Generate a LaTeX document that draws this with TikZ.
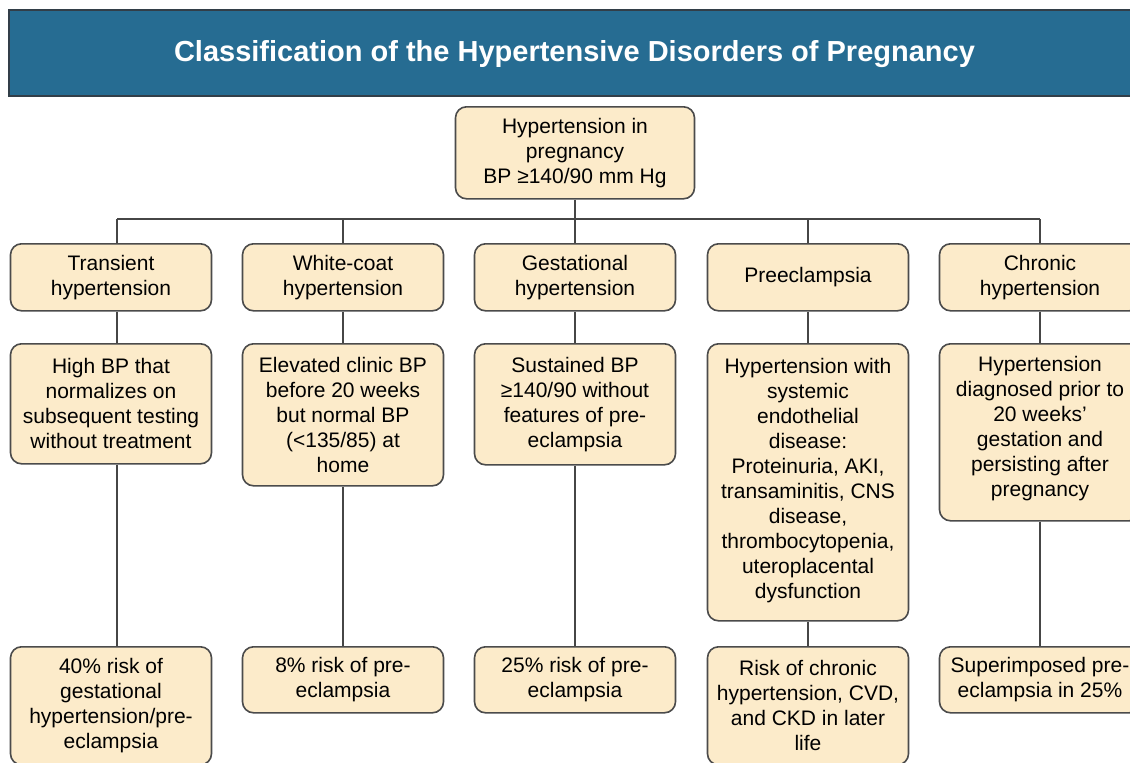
\documentclass[tikz,border=0pt]{standalone}
\usepackage{fontspec}
\setmainfont{Liberation Sans}
\definecolor{titleblue}{RGB}{38,108,146}
\definecolor{titleedge}{RGB}{50,62,72}
\definecolor{boxfill}{RGB}{252,235,202}
\definecolor{boxline}{RGB}{75,75,75}
\definecolor{linkgray}{RGB}{70,70,70}
\begin{document}
\begin{tikzpicture}[x=1pt,y=-1pt,
  box/.style={draw=boxline, fill=boxfill, line width=1.6pt, rounded corners=11pt,
    minimum width=201pt, inner sep=0pt, align=center, anchor=north,
    font=\fontsize{21}{25}\selectfont},
  link/.style={draw=linkgray, line width=1.8pt}]
\useasboundingbox (0,0) rectangle (1130,763);
\fill[white] (0,0) rectangle (1130,763);

% title banner
\draw[fill=titleblue, draw=titleedge, line width=1.4pt] (9,10) rectangle (1145,96);
\node[text=white, font=\bfseries\fontsize{29}{34}\selectfont] (title) at (574.5,54)
  {Classification of the Hypertensive Disorders of Pregnancy};

% root
\node[box, minimum width=239pt, minimum height=92pt] (root) at (575,106)
  {Hypertension in\\pregnancy\\BP ≥140/90 mm Hg};

% categories
\node[box, minimum height=67pt] (t1) at (111,243) {Transient\\hypertension};
\node[box, minimum height=67pt] (t2) at (343,243) {White-coat\\hypertension};
\node[box, minimum height=67pt] (t3) at (575,243) {Gestational\\hypertension};
\node[box, minimum height=67pt] (t4) at (808,243) {Preeclampsia};
\node[box, minimum height=67pt] (t5) at (1040,243) {Chronic\\hypertension};

% definitions
\node[box, minimum height=120pt] (d1) at (111,343)
  {High BP that\\normalizes on\\subsequent testing\\without treatment};
\node[box, minimum height=142pt] (d2) at (343,343)
  {Elevated clinic BP\\before 20 weeks\\but normal BP\\(<135/85) at\\home};
\node[box, minimum height=121pt] (d3) at (575,343)
  {Sustained BP\\≥140/90 without\\features of pre-\\eclampsia};
\node[box, minimum height=277pt, text depth=8pt] (d4) at (808,343)
  {Hypertension with\\systemic\\endothelial\\disease:\\Proteinuria, AKI,\\transaminitis, CNS\\disease,\\thrombocytopenia,\\uteroplacental\\dysfunction};
\node[box, minimum height=177pt, text depth=12pt] (d5) at (1040,343)
  {Hypertension\\diagnosed prior to\\20 weeks’\\gestation and\\persisting after\\pregnancy};

% outcomes
\node[box, minimum height=118pt] (o1) at (111,646)
  {40\% risk of\\gestational\\hypertension/pre-\\eclampsia};
\node[box, minimum height=66pt] (o2) at (343,646) {8\% risk of pre-\\eclampsia};
\node[box, minimum height=66pt] (o3) at (575,646) {25\% risk of pre-\\eclampsia};
\node[box, minimum height=118pt] (o4) at (808,646)
  {Risk of chronic\\hypertension, CVD,\\and CKD in later\\life};
\node[box, minimum height=66pt] (o5) at (1040,646)
  {Superimposed pre-\\eclampsia in 25\%};

% branching bus
\coordinate (bus) at (575,219);
\coordinate (j1) at ([xshift=6pt]t1.north);
\draw[link] (root.south) -- (root.south |- bus);
\draw[link] (j1 |- bus) -- (t5.north |- bus);
\draw[link] (j1) -- (j1 |- bus);
\foreach \n in {2,3,4,5}{
  \draw[link] (t\n.north) -- (t\n.north |- bus);
}

% column links
\draw[link] ([xshift=6pt]t1.south) -- ([xshift=6pt]d1.north);
\draw[link] ([xshift=6pt]d1.south) -- ([xshift=6pt]o1.north);
\foreach \n in {2,3,4,5}{
  \draw[link] (t\n.south) -- (d\n.north);
  \draw[link] (d\n.south) -- (o\n.north);
}
\end{tikzpicture}
\end{document}
